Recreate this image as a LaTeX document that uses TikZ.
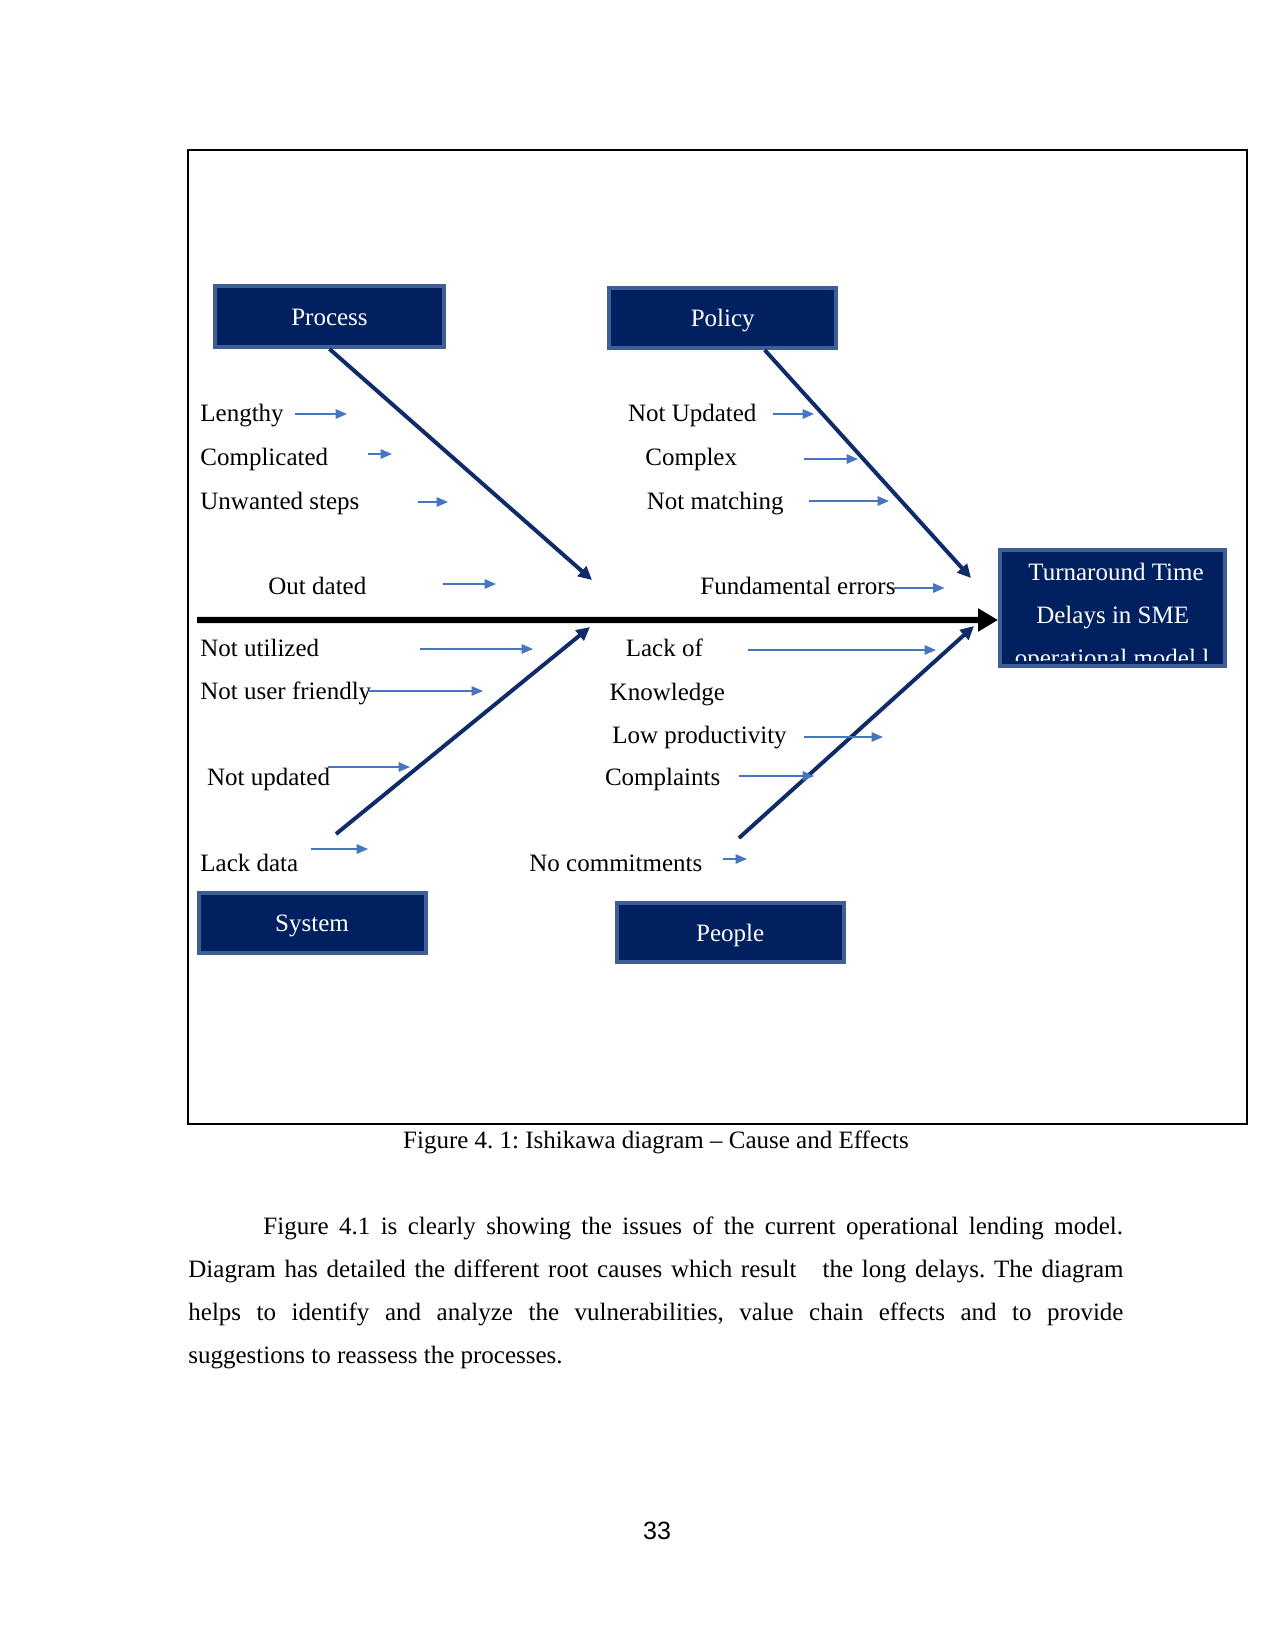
\documentclass[tikz,border=0pt]{standalone}
\usepackage{fontspec}
\setmainfont{Liberation Serif}
\newfontfamily\pagesans{Liberation Sans}
\usetikzlibrary{arrows.meta}
\newdimen\pxu \pxu=0.48bp
\definecolor{navyfill}{HTML}{002060}
\definecolor{boxedge}{HTML}{3E5F96}
\definecolor{bonenavy}{HTML}{0F2B68}
\definecolor{smallblue}{HTML}{4677BE}
\tikzset{
  txt/.style={inner sep=0pt, font=\fontsize{12bp}{14bp}\selectfont},
  lbl/.style={txt, anchor=base west},
  catbox/.style={draw=boxedge, line width=4\pxu, fill=navyfill, text=white, inner sep=0pt,
    text height=8.6bp, text depth=0pt,
    font=\fontsize{12bp}{14bp}\selectfont},
  smallarrow/.style={draw=smallblue, line width=0.6bp, -{Triangle[length=5.5bp,width=4.6bp]}},
  bone/.style={draw=bonenavy, line width=1.9bp, -{Triangle[length=6.5bp,width=6.2bp]}},
  spine/.style={draw=black, line width=3.1bp, -{Triangle[length=9.5bp,width=10.5bp]}}
}
\begin{document}
\frenchspacing
\begin{tikzpicture}[x=0.48bp, y=-0.48bp]
\useasboundingbox (0,0) rectangle (1275,1651);
% frame
\draw[line width=0.5bp] (188,150) rectangle (1247,1124);

% category boxes
\node[catbox, minimum width=229\pxu, minimum height=61\pxu] (process) at (329.5,316.5) {Process};
\node[catbox, minimum width=227\pxu, minimum height=60\pxu] (policy) at (722.7,318) {Policy};
\node[catbox, minimum width=227\pxu, minimum height=60\pxu] (system) at (312,923) {System};
\node[catbox, minimum width=227\pxu, minimum height=59\pxu] (people) at (730.2,932.7) {People};
\node[catbox, minimum width=225\pxu, minimum height=116\pxu] (turn) at (1112.5,608.3) {};
\begin{scope}
  \clip (1000,551) rectangle (1225,660.5);
  \node[txt, anchor=base, text=white] (t1) at (1116,580) {Turnaround Time};
  \node[txt, anchor=base, text=white] (t2) at (1112.7,623) {Delays in SME};
  \node[txt, anchor=base, text=white] (t3) at (1112,666) {operational model l};
\end{scope}

% spine
\coordinate (spinestart) at (197,620);
\draw[spine] (spinestart) -- ([yshift=-11.7\pxu]turn.west);

% bones
\coordinate (ptip) at (592,580);
\draw[bone] (process.south) -- (ptip);
\coordinate (ltip) at (971,578);
\draw[bone] ([xshift=42\pxu]policy.south) -- (ltip);
\coordinate (sstart) at (336,834);
\coordinate (stip) at (590,627);
\draw[bone] (sstart) -- (stip);
\coordinate (ppstart) at (739,838);
\coordinate (pptip) at (974,626);
\draw[bone] (ppstart) -- (pptip);

% labels
\node[lbl] (l1) at (200,421) {Lengthy};
\node[lbl] (l2) at (200,465) {Complicated};
\node[lbl] (l3) at (200,509) {Unwanted steps};
\node[lbl] (l4) at (268,594) {Out dated};
\node[lbl] (l5) at (627.6,421) {Not Updated};
\node[lbl] (l6) at (645,465) {Complex};
\node[lbl] (l7) at (646.5,509) {Not matching};
\node[lbl] (l8) at (700,594) {Fundamental errors};
\node[lbl] (l9) at (200,656) {Not utilized};
\node[lbl] (l10) at (200,699) {Not user friendly};
\node[lbl] (l11) at (206.7,785) {Not updated};
\node[lbl] (l12) at (200,871) {Lack data};
\node[lbl] (l13) at (625.4,656) {Lack of};
\node[lbl] (l14) at (609.3,700) {Knowledge};
\node[lbl] (l15) at (612,743) {Low productivity};
\node[lbl] (l16) at (604.6,785) {Complaints};
\node[lbl] (l17) at (529,871) {No commitments};

% small arrows
\coordinate (a1s) at (295,414);   \coordinate (a1e) at (347,414);
\coordinate (a2s) at (368,454);   \coordinate (a2e) at (392,454);
\coordinate (a3s) at (418,502);   \coordinate (a3e) at (448,502);
\coordinate (a4s) at (443,584);   \coordinate (a4e) at (496,584);
\coordinate (a5s) at (773,414);   \coordinate (a5e) at (814,414);
\coordinate (a6s) at (804,459);   \coordinate (a6e) at (858,459);
\coordinate (a7s) at (809,501);   \coordinate (a7e) at (889,501);
\coordinate (a8s) at (893.5,588); \coordinate (a8e) at (944.5,588);
\coordinate (a9s) at (420,649);   \coordinate (a9e) at (533,649);
\coordinate (a10s) at (369,691);  \coordinate (a10e) at (483,691);
\coordinate (a11s) at (328,767);  \coordinate (a11e) at (410,767);
\coordinate (a12s) at (311,849);  \coordinate (a12e) at (368,849);
\coordinate (a13s) at (747.5,650);\coordinate (a13e) at (936,650);
\coordinate (a15s) at (804,737);  \coordinate (a15e) at (883,737);
\coordinate (a16s) at (739,776);  \coordinate (a16e) at (814,776);
\coordinate (a17s) at (722.5,859);\coordinate (a17e) at (747,859);
\foreach \i in {1,2,3,4,5,6,7,8,9,10,11,12,13,15,16,17}
  \draw[smallarrow] (a\i s) -- (a\i e);

% caption
\node[txt, anchor=base] (caption) at (656,1148) {Figure 4. 1: Ishikawa diagram -- Cause and Effects};

% body text
\node[lbl] (b1) at (263,1234) {\makebox[412.6bp][s]{Figure 4.1 is clearly showing the issues of the current operational lending model.}};
\node[lbl] (b2) at (188,1277) {\makebox[448.8bp][s]{Diagram has detailed the different root causes which result \ \ the long delays. The diagram}};
\node[lbl] (b3) at (188,1320) {\makebox[448.8bp][s]{helps to identify and analyze the vulnerabilities, value chain effects and to provide}};
\node[lbl] (b4) at (188,1363) {suggestions to reassess the processes.};

% page number
\node[txt, anchor=base, font=\pagesans\fontsize{12bp}{14bp}\selectfont] (pagenum) at (657,1539) {33};
\end{tikzpicture}
\end{document}
